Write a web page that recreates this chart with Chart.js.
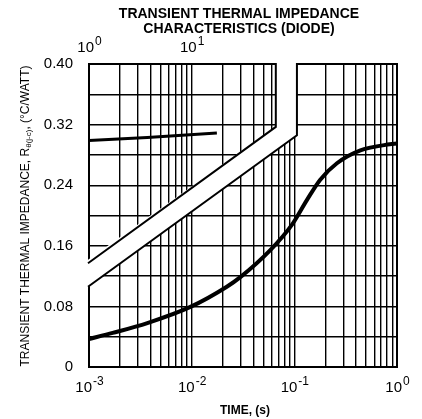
<!DOCTYPE html>
<html lang="en">
<head>
  <meta charset="UTF-8" />
  <title>Transient Thermal Impedance Characteristics (Diode)</title>
  <script src="https://cdn.jsdelivr.net/npm/chart.js"></script>
  <style>
    body { margin: 0; background: #fff; }
    canvas { display: block; }
  </style>
</head>
<body>
  <canvas id="zthChart" width="422" height="419"></canvas>

  <script>
    // lower curve, bottom time axis (s)
    const lowerTime = [0.001, 0.0017, 0.0037, 0.0096, 0.022, 0.03, 0.058, 0.095, 0.132, 0.178, 0.26, 0.44, 0.85, 1.0];
    const lowerZth  = [0.037, 0.045, 0.058, 0.079, 0.106, 0.119, 0.154, 0.188, 0.220, 0.247, 0.269, 0.286, 0.294, 0.295];

    // upper curve, read against the top time axis (s)
    const upperTime = [1, 3.7, 17.6];
    const upperZth  = [0.299, 0.303, 0.309];

    // decade labels: base + exponent
    const xDecades = [0.001, 0.01, 0.1, 1];
    const xDecadeExp = ['-3', '-2', '-1', '0'];
    const topDecades = [1, 10];
    const topDecadeExp = ['0', '1'];

    const yTicks  = [0, 0.04, 0.08, 0.12, 0.16, 0.20, 0.24, 0.28, 0.32, 0.36, 0.40];
    const yLabels = ['0', '', '0.08', '', '0.16', '', '0.24', '', '0.32', '', '0.40'];

    // axis break band: [time, Zth] corners
    const breakUpper = [[0.066, 0.40], [0.066, 0.317], [0.001, 0.137]];
    const breakLower = [[0.106, 0.40], [0.106, 0.306], [0.001, 0.106]];

    // log grid: 1..9 in every decade
    const xGrid = [];
    xDecades.slice(0, 3).forEach(d => {
      for (let k = 1; k < 10; k++) xGrid.push(d * k);
    });
    xGrid.push(1);

    const FONT = '"Liberation Sans", Arial, sans-serif';

    function powerLabel(ctx, x, y, exp) {
      ctx.font = '15px ' + FONT;
      const wb = ctx.measureText('10').width;
      ctx.font = '12px ' + FONT;
      const we = ctx.measureText(exp).width;
      const x0 = x - (wb + we) / 2;
      ctx.textAlign = 'left';
      ctx.textBaseline = 'middle';
      ctx.font = '15px ' + FONT;
      ctx.fillText('10', x0, y);
      ctx.font = '12px ' + FONT;
      ctx.fillText(exp, x0 + wb + 1, y - 6);
    }

    const decorations = {
      id: 'decorations',
      afterDraw(chart) {
        const ctx = chart.ctx;
        const xs = chart.scales.x, x2 = chart.scales.x2, ys = chart.scales.y;
        const a = chart.chartArea;
        const px = p => [xs.getPixelForValue(p[0]), ys.getPixelForValue(p[1])];

        ctx.save();
        // frame
        ctx.strokeStyle = '#000';
        ctx.lineWidth = 2;
        ctx.strokeRect(a.left, a.top, a.right - a.left, a.bottom - a.top);

        // white break band
        const u = breakUpper.map(px), l = breakLower.map(px);
        ctx.fillStyle = '#fff';
        ctx.beginPath();
        ctx.moveTo(u[0][0], u[0][1] - 3);
        ctx.lineTo(l[0][0], l[0][1] - 3);
        ctx.lineTo(l[1][0], l[1][1]);
        ctx.lineTo(l[2][0] - 3, l[2][1] + 2);
        ctx.lineTo(u[2][0] - 3, u[2][1] - 2);
        ctx.lineTo(u[1][0], u[1][1]);
        ctx.closePath();
        ctx.fill();

        ctx.lineWidth = 2;
        [u, l].forEach(pts => {
          ctx.beginPath();
          ctx.moveTo(pts[0][0], pts[0][1] - 1);
          ctx.lineTo(pts[1][0], pts[1][1]);
          ctx.lineTo(pts[2][0] - 1, pts[2][1]);
          ctx.stroke();
        });

        ctx.fillStyle = '#000';

        // decade tick labels
        xDecades.forEach((d, i) => powerLabel(ctx, xs.getPixelForValue(d), a.bottom + 21, xDecadeExp[i]));
        topDecades.forEach((d, i) => powerLabel(ctx, x2.getPixelForValue(d), a.top - 16, topDecadeExp[i]));

        // titles
        ctx.textAlign = 'center';
        ctx.textBaseline = 'middle';
        ctx.font = 'bold 14px ' + FONT;
        ctx.fillText('TRANSIENT THERMAL IMPEDANCE', 239, 14);
        ctx.fillText('CHARACTERISTICS (DIODE)', 239, 29);

        ctx.font = 'bold 12px ' + FONT;
        ctx.fillText('TIME, (s)', 245, 411);

        // rotated y title with subscript
        const parts = [
          { t: 'TRANSIENT THERMAL IMPEDANCE, R', f: '12px ' + FONT, dy: 0 },
          { t: 'θ(j-c)', f: '8px ' + FONT, dy: 3 },
          { t: ', (°C/WATT)', f: '12px ' + FONT, dy: 0 }
        ];
        let total = 0;
        parts.forEach(p => { ctx.font = p.f; p.w = ctx.measureText(p.t).width; total += p.w; });
        ctx.translate(26, 216);
        ctx.rotate(-Math.PI / 2);
        ctx.textAlign = 'left';
        let x0 = -total / 2;
        parts.forEach(p => {
          ctx.font = p.f;
          ctx.fillText(p.t, x0, p.dy);
          x0 += p.w;
        });
        ctx.restore();
      }
    };

    const ctx = document.getElementById('zthChart').getContext('2d');

    new Chart(ctx, {
      type: 'line',
      data: {
        datasets: [
          {
            data: lowerTime.map((t, i) => ({ x: t, y: lowerZth[i] })),
            xAxisID: 'x',
            borderColor: '#000',
            borderWidth: 4,
            pointRadius: 0,
            cubicInterpolationMode: 'monotone',
            fill: false
          },
          {
            data: upperTime.map((t, i) => ({ x: t, y: upperZth[i] })),
            xAxisID: 'x2',
            borderColor: '#000',
            borderWidth: 3,
            pointRadius: 0,
            fill: false
          }
        ]
      },
      options: {
        responsive: false,
        animation: false,
        layout: { padding: { right: 25, top: 0, left: 0, bottom: 0 } },
        plugins: { legend: { display: false }, tooltip: { enabled: false } },
        scales: {
          x: {
            type: 'logarithmic',
            position: 'bottom',
            min: 0.001,
            max: 1,
            afterBuildTicks: s => { s.ticks = xGrid.map(v => ({ value: v })); },
            afterFit: s => { s.height = 52; },
            grid: { color: '#000', lineWidth: 1.4, drawTicks: false },
            border: { display: false },
            ticks: { display: false, autoSkip: false }
          },
          x2: {
            type: 'logarithmic',
            position: 'top',
            min: 1,
            max: 1000,
            afterBuildTicks: s => { s.ticks = topDecades.map(v => ({ value: v })); },
            afterFit: s => { s.height = 64; },
            grid: { display: false, drawTicks: false },
            border: { display: false },
            ticks: { display: false }
          },
          y: {
            min: 0,
            max: 0.4,
            afterBuildTicks: s => { s.ticks = yTicks.map(v => ({ value: v })); },
            afterFit: s => { s.width = 89; },
            grid: { color: '#000', lineWidth: 1.4, drawTicks: false },
            border: { display: false },
            ticks: {
              autoSkip: false,
              padding: 16,
              color: '#000',
              font: { family: FONT, size: 15 },
              callback: (v, i) => yLabels[i]
            }
          }
        }
      },
      plugins: [decorations]
    });
  </script>
</body>
</html>
